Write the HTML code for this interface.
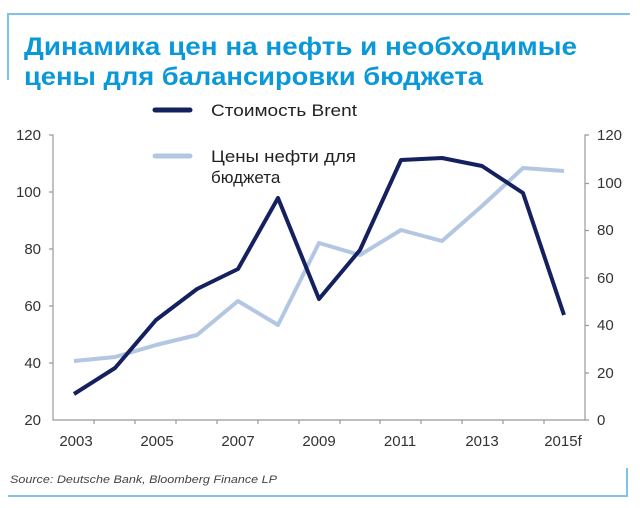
<!DOCTYPE html>
<html><head><meta charset="utf-8"><style>
body{margin:0;background:#fff;}
svg{display:block}
</style></head><body>
<svg width="640" height="508" xmlns="http://www.w3.org/2000/svg" font-family="Liberation Sans, sans-serif">
<rect width="640" height="508" fill="#fff"/>
<path d="M8,80 V14 H630" fill="none" stroke="#7cc4e8" stroke-width="2"/>
<path d="M8,496 H627 V468" fill="none" stroke="#7cc4e8" stroke-width="2"/>
<text x="24" y="55" font-size="25" font-weight="bold" fill="#0a98d8" textLength="553" lengthAdjust="spacingAndGlyphs">Динамика цен на нефть и необходимые</text>
<text x="24" y="85" font-size="25" font-weight="bold" fill="#0a98d8" textLength="459" lengthAdjust="spacingAndGlyphs">цены для балансировки бюджета</text>
<line x1="155" y1="110" x2="190" y2="110" stroke="#15215e" stroke-width="5" stroke-linecap="round"/>
<text x="211" y="116" font-size="17" fill="#222" textLength="146" lengthAdjust="spacingAndGlyphs">Стоимость Brent</text>
<line x1="155" y1="156" x2="190" y2="156" stroke="#b3c6e2" stroke-width="5" stroke-linecap="round"/>
<text x="211" y="162" font-size="17" fill="#222" textLength="145" lengthAdjust="spacingAndGlyphs">Цены нефти для</text>
<text x="211" y="183" font-size="17" fill="#222">бюджета</text>
<g stroke="#999" stroke-width="1.2" fill="none">
<path d="M49,135 H53 V420 H585 V135 H589"/>
<path d="M49,192 H53 M49,249 H53 M49,306 H53 M49,363 H53 M585,183.5 H589 M585,230.5 H589 M585,278 H589 M585,325.5 H589 M585,373 H589 M585,420 H589"/>
<path d="M94,420v4 M135,420v4 M176,420v4 M217,420v4 M258,420v4 M299,420v4 M340,420v4 M380,420v4 M421,420v4 M462,420v4 M503,420v4 M544,420v4"/>
</g>
<g font-size="15" fill="#333" text-anchor="end">
<text x="41" y="140">120</text><text x="41" y="197">100</text><text x="41" y="254">80</text><text x="41" y="311">60</text><text x="41" y="368">40</text><text x="41" y="425">20</text>
</g>
<g font-size="15" fill="#333" text-anchor="start">
<text x="597" y="140">120</text><text x="597" y="188">100</text><text x="597" y="235">80</text><text x="597" y="283">60</text><text x="597" y="330">40</text><text x="597" y="378">20</text><text x="597" y="425">0</text>
</g>
<g font-size="15" fill="#333" text-anchor="middle">
<text x="76" y="446">2003</text><text x="157" y="446">2005</text><text x="238" y="446">2007</text><text x="319" y="446">2009</text><text x="400" y="446">2011</text><text x="482" y="446">2013</text><text x="563" y="446">2015f</text>
</g>
<polyline fill="none" stroke="#b3c6e2" stroke-width="4" stroke-linejoin="round" points="74,361 115,357 156,345 197,335 238,301 278,325 319,243 360,255 401,230 442,241 482,206 523,168 564,171"/>
<polyline fill="none" stroke="#15215e" stroke-width="4" stroke-linejoin="round" points="74,394 115,368 156,320 197,289 238,269 278,198 319,299 360,250 401,160 442,158 482,166 523,193 564,315"/>
<text x="10" y="483" font-size="11" font-style="italic" fill="#444" textLength="267" lengthAdjust="spacingAndGlyphs">Source: Deutsche Bank, Bloomberg Finance LP</text>
</svg>
</body></html>
